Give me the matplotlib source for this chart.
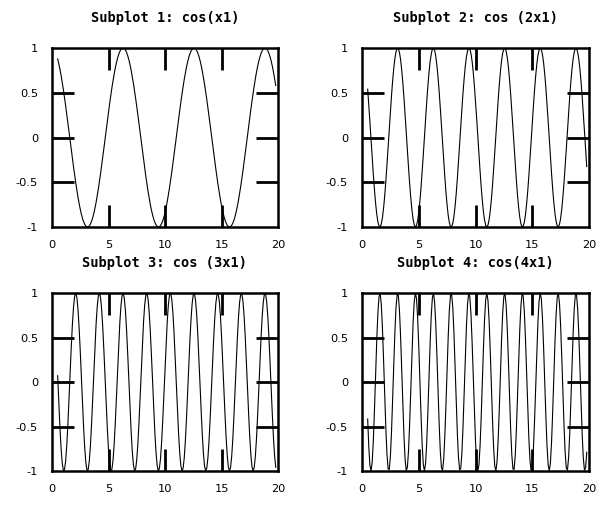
import numpy as np
import matplotlib
matplotlib.use("Agg")
import matplotlib.pyplot as plt

titles = ["Subplot 1: cos(x1)", "Subplot 2: cos (2x1)",
          "Subplot 3: cos (3x1)", "Subplot 4: cos(4x1)"]
multipliers = [1, 2, 3, 4]
x_start, x_stop, x_step = 0.5, 19.8, 0.1
xticks = [0, 5, 10, 15, 20]
xticklabels = ["0", "5", "10", "15", "20"]
yticks = [-1, -0.5, 0, 0.5, 1]
yticklabels = ["-1", "-0.5", "0", "0.5", "1"]

x1 = np.arange(x_start, x_stop + 1e-9, x_step)

W, H = 605, 511
fig = plt.figure(figsize=(W / 100, H / 100), dpi=100)

# axes boxes in pixels: left, top, right, bottom
boxes = [(52, 48, 278, 227), (362, 48, 589, 227),
         (52, 293, 278, 471), (362, 293, 589, 471)]

for (l, t, r, b), title, k in zip(boxes, titles, multipliers):
    ax = fig.add_axes([l / W, 1 - b / H, (r - l) / W, (b - t) / H])
    ax.plot(x1, np.cos(k * x1), color="black", lw=0.8)
    ax.set_xlim(0, 20)
    ax.set_ylim(-1, 1)
    ax.set_xticks(xticks)
    ax.set_xticklabels(xticklabels)
    ax.set_yticks(yticks)
    ax.set_yticklabels(yticklabels)
    ax.tick_params(direction="in", length=16, width=2, top=True, right=True,
                   labelsize=8.2, colors="black")
    ax.tick_params(axis="x", pad=9)
    ax.tick_params(axis="y", pad=10)
    # hide tick marks that sit on the frame corners
    for tk in (ax.xaxis.get_major_ticks()[0], ax.xaxis.get_major_ticks()[-1],
               ax.yaxis.get_major_ticks()[0], ax.yaxis.get_major_ticks()[-1]):
        tk.tick1line.set_visible(False)
        tk.tick2line.set_visible(False)
    for sp in ax.spines.values():
        sp.set_linewidth(1.8)
    ax.set_title(title, fontsize=9.8, family="DejaVu Sans Mono",
                 fontweight="bold", pad=19)

fig.savefig("out.png", dpi=100)
